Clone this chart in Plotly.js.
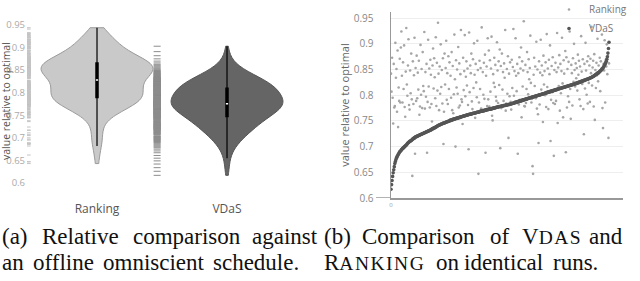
<!DOCTYPE html>
<html>
<head>
<meta charset="utf-8">
<script src="https://cdn.plot.ly/plotly-3.0.1.min.js"></script>
<style>html,body{margin:0;padding:0;background:#fff;}#chart{width:640px;height:281px;}</style>
</head>
<body>
<div id="chart"></div>
<script>
// Categories
const categories = ['Ranking', 'VDaS'];
const yTickVals = [0.6, 0.65, 0.7, 0.75, 0.8, 0.85, 0.9, 0.95];

// Ranking values per run (in the run order of plot (b))
const ranking = [
.842,.807,.873,.795,.745,.861,.776,.779,.902,.834,.851,.768,.887,.738,.815,.789,.871,.786,.893,.924,
.838,.786,.864,.812,.897,.777,.758,.846,.931,.821,.799,.858,.909,.781,.772,.848,.804,.881,.792,.643,
.866,.783,.839,.912,.686,.853,.789,.877,.794,.844,.811,.867,.762,.778,.898,.801,.851,.775,.884,.818,
.808,.923,.774,.845,.797,.861,.688,.787,.908,.817,.852,.776,.869,.840,.783,.749,.858,.891,.813,.872,
.835,.794,.913,.779,.863,.809,.941,.842,.771,.856,.803,.899,.816,.849,.784,.872,.705,.768,.881,.821,
.853,.906,.791,.843,.783,.876,.812,.864,.752,.838,.795,.884,.771,.857,.765,.802,.918,.831,.700,.868,
.815,.850,.803,.894,.776,.862,.780,.841,.927,.792,.787,.744,.873,.810,.847,.917,.798,.836,.866,.819,
.852,.781,.695,.922,.806,.858,.843,.881,.788,.773,.870,.814,.901,.840,.756,.861,.825,.796,.906,.849,
.647,.786,.867,.812,.853,.774,.932,.769,.845,.801,.863,.793,.879,.688,.838,.856,.779,.911,.792,.887,
.778,.868,.807,.852,.914,.760,.751,.841,.824,.873,.816,.859,.797,.789,.903,.848,.785,.866,.820,.889,
.697,.857,.775,.881,.811,.845,.789,.862,.834,.927,.770,.784,.851,.803,.876,.717,.842,.798,.864,.787,
.772,.869,.814,.855,.929,.799,.847,.788,.911,.838,.808,.861,.686,.843,.782,.874,.791,.852,.893,.757,
.866,.817,.848,.944,.779,.778,.859,.785,.812,.884,.845,.802,.870,.831,.853,.916,.824,.786,.793,.662,
.647,.840,.873,.818,.856,.794,.904,.774,.850,.763,.707,.866,.782,.844,.908,.811,.858,.839,.748,.877,
.821,.847,.800,.864,.777,.919,.816,.852,.773,.869,.841,.897,.711,.791,.857,.806,.874,.785,.682,.849,
.783,.863,.789,.845,.921,.746,.854,.818,.878,.770,.861,.804,.847,.912,.823,.757,.868,.842,.815,.886,
.689,.874,.776,.851,.798,.865,.787,.924,.812,.754,.859,.843,.780,.872,.826,.900,.849,.817,.862,.833,
.853,.809,.879,.840,.867,.792,.856,.779,.915,.846,.822,.870,.773,.724,.861,.813,.902,.848,.801,.866,
.784,.876,.824,.858,.787,.871,.843,.933,.819,.854,.867,.778,.880,.752,.849,.814,.863,.839,.910,.827,
.858,.845,.873,.808,.866,.852,.918,.775,.736,.861,.848,.907,.786,.869,.856,.899,.841,.877,.717,.862
];

// VDaS values per run, sorted ascending (plot (b) run order)
const vdasSorted = [
.617,.626,.634,.642,.649,.655,.661,.667,.671,.675,.678,.680,.682,.684,.686,.688,.690,.691,.692,.694,
.695,.696,.697,.698,.699,.700,.701,.702,.703,.704,.706,.707,.708,.709,.710,.711,.711,.712,.713,.714,
.715,.716,.716,.717,.718,.719,.719,.720,.720,.721,.721,.722,.722,.723,.723,.724,.724,.725,.725,.726,
.726,.727,.727,.728,.728,.729,.729,.730,.730,.731,.731,.732,.732,.733,.733,.734,.735,.735,.736,.736,
.737,.737,.738,.739,.739,.740,.741,.741,.742,.742,.743,.743,.744,.744,.745,.745,.746,.746,.746,.747,
.747,.748,.748,.749,.749,.749,.750,.750,.751,.751,.751,.752,.752,.753,.753,.753,.754,.754,.754,.755,
.755,.755,.756,.756,.756,.757,.757,.757,.758,.758,.758,.759,.759,.759,.760,.760,.760,.761,.761,.761,
.762,.762,.762,.763,.763,.763,.763,.764,.764,.764,.765,.765,.765,.765,.766,.766,.766,.767,.767,.767,
.767,.768,.768,.768,.769,.769,.769,.769,.770,.770,.770,.770,.771,.771,.771,.772,.772,.772,.772,.773,
.773,.773,.773,.773,.774,.774,.774,.775,.775,.775,.775,.776,.776,.776,.777,.777,.777,.777,.778,.778,
.778,.778,.779,.779,.779,.779,.780,.780,.780,.780,.781,.781,.781,.781,.782,.782,.782,.782,.783,.783,
.783,.784,.784,.784,.785,.785,.785,.786,.786,.786,.787,.787,.787,.788,.788,.788,.789,.789,.789,.790,
.790,.790,.791,.791,.791,.792,.792,.792,.793,.793,.793,.794,.794,.794,.795,.795,.795,.796,.796,.796,
.797,.797,.797,.798,.798,.798,.799,.799,.799,.800,.800,.800,.801,.801,.801,.802,.802,.802,.803,.803,
.803,.804,.804,.804,.805,.805,.805,.806,.806,.806,.807,.807,.807,.808,.808,.808,.809,.809,.809,.810,
.810,.810,.811,.811,.811,.812,.812,.812,.813,.813,.813,.814,.814,.814,.815,.815,.815,.816,.816,.816,
.817,.817,.817,.818,.818,.818,.819,.819,.819,.820,.820,.820,.821,.821,.821,.822,.822,.822,.823,.823,
.823,.824,.824,.825,.825,.825,.826,.826,.827,.827,.827,.828,.828,.829,.829,.829,.830,.830,.831,.831,
.831,.832,.832,.833,.833,.834,.834,.835,.835,.836,.837,.837,.838,.839,.840,.840,.841,.842,.843,.843,
.844,.845,.846,.847,.848,.849,.850,.852,.853,.855,.857,.859,.861,.863,.866,.870,.875,.882,.891,.903
];

const runIndex = vdasSorted.map((_, i) => i);

const W = 640, H = 281;
const px = v => v / W;          // horizontal pixel -> paper
const py = v => 1 - v / H;      // vertical pixel -> paper

const data = [
  {
    type: 'violin', x0: categories[0], y: ranking, xaxis: 'x', yaxis: 'y', name: categories[0],
    fillcolor: '#c9c9c9', line: {color: '#9a9a9a', width: 1}, opacity: 1,
    points: 'all', jitter: 0, pointpos: -1.25, bandwidth: 0.022,
    marker: {symbol: 'line-ew-open', size: 5, color: '#c4c4c4', line: {width: 1, color: '#c4c4c4'}},
    box: {visible: true, width: 0.02, fillcolor: '#000', line: {color: '#000', width: 1.2}},
    meanline: {visible: true, color: '#fff', width: 1.5},
    spanmode: 'hard', scalemode: 'width', width: 0.86, showlegend: false, hoverinfo: 'skip'
  },
  {
    type: 'violin', x0: categories[1], y: vdasSorted, xaxis: 'x', yaxis: 'y', name: categories[1],
    fillcolor: '#656565', line: {color: '#555', width: 1}, opacity: 1,
    points: 'all', jitter: 0, pointpos: -1.25, bandwidth: 0.019,
    marker: {symbol: 'line-ew-open', size: 5, color: '#8c8c8c', line: {width: 1, color: '#8c8c8c'}},
    box: {visible: true, width: 0.02, fillcolor: '#000', line: {color: '#000', width: 1.2}},
    meanline: {visible: true, color: '#fff', width: 1.5},
    spanmode: 'hard', scalemode: 'width', width: 0.86, showlegend: false, hoverinfo: 'skip'
  },
  {
    type: 'scatter', mode: 'markers', x: runIndex, y: ranking, xaxis: 'x2', yaxis: 'y2',
    name: 'Ranking', marker: {size: 2.6, color: '#a6a6a6'}, hoverinfo: 'skip'
  },
  {
    type: 'scatter', mode: 'markers', x: runIndex, y: vdasSorted, xaxis: 'x2', yaxis: 'y2',
    name: 'VDaS', marker: {size: 3.6, color: '#555'}, hoverinfo: 'skip'
  }
];

const serif = 'Liberation Serif, Times New Roman, serif';
const capFont = {family: serif, size: 23, color: '#111'};
const sc = t => '<span style="font-size:19.5px;letter-spacing:1.5px">' + t + '</span>';
const L1 = 237, L2 = 262.5;

function word(text, x, y, anchor) {
  return {text: text, xref: 'paper', yref: 'paper', x: px(x), y: py(y),
          xanchor: anchor || 'left', yanchor: 'middle', showarrow: false, font: capFont};
}

const annotations = [
  {text: 'value relative to optimal', xref: 'paper', yref: 'paper', x: px(6), y: py(101),
   xanchor: 'center', yanchor: 'middle', textangle: -90, showarrow: false,
   font: {family: 'Open Sans, sans-serif', size: 10.5, color: '#555'}},
  word('(a)', 0, L1), word('Relative', 40, L1), word('comparison', 131, L1), word('against', 320, L1, 'right'),
  word('an', 0, L2), word('offline', 31, L2), word('omniscient', 101, L2), word('schedule.', 301, L2, 'right'),
  word('(b)', 322, L1), word('Comparison', 360, L1), word('of', 488, L1),
  word('V' + sc('DAS'), 520, L1), word('and', 625, L1, 'right'),
  word('R' + sc('ANKING'), 322, L2), word('on', 434, L2), word('identical', 462, L2), word('runs.', 600, L2, 'right')
];

const layout = {
  width: W, height: H,
  margin: {l: 0, r: 0, t: 0, b: 0, pad: 0, autoexpand: false},
  paper_bgcolor: '#fff', plot_bgcolor: '#fff',
  font: {family: 'Open Sans, sans-serif', color: '#666'},
  showlegend: true,
  legend: {x: px(549), y: py(-5), xanchor: 'left', yanchor: 'top',
           font: {size: 10, color: '#777'}, bgcolor: 'rgba(0,0,0,0)'},
  xaxis: {domain: [px(27), px(300)], anchor: 'y', type: 'category',
          categoryorder: 'array', categoryarray: categories,
          range: [-0.5385, 1.5615], showgrid: false, zeroline: false, showline: false,
          ticks: '', tickfont: {size: 12, color: '#555'}, ticklabelstandoff: 10, fixedrange: true},
  yaxis: {domain: [py(190), py(20)], anchor: 'x', range: [0.5845, 0.9611],
          tickvals: yTickVals, showgrid: false, zeroline: false, showline: false, ticks: '',
          tickfont: {size: 9.5, color: '#aaa'}, ticklabelstandoff: 1, fixedrange: true},
  xaxis2: {domain: [px(391), px(623)], anchor: 'y2', range: [0, 424.6],
           showgrid: false, zeroline: false, showline: true, linecolor: '#999', linewidth: 1.5,
           tickvals: [0], ticktext: ['0'], ticks: '', tickfont: {size: 6, color: '#999'}, fixedrange: true},
  yaxis2: {domain: [py(198), py(12)], anchor: 'x2', range: [0.6, 0.962],
           tickvals: yTickVals, showgrid: true, gridcolor: '#eeeeee', gridwidth: 1,
           zeroline: false, showline: true, linecolor: '#999', linewidth: 1.5, ticks: '',
           tickfont: {size: 10, color: '#888'}, ticklabelstandoff: 14,
           title: {text: 'value relative to optimal', font: {size: 11, color: '#666'}, standoff: 2},
           fixedrange: true},
  shapes: [
    {type: 'line', xref: 'paper', yref: 'y2', x0: px(376), x1: px(391), y0: 0.6, y1: 0.6,
     line: {color: '#999', width: 1.5}}
  ],
  annotations: annotations
};

Plotly.newPlot('chart', data, layout, {displayModeBar: false, staticPlot: true});
</script>
</body>
</html>
